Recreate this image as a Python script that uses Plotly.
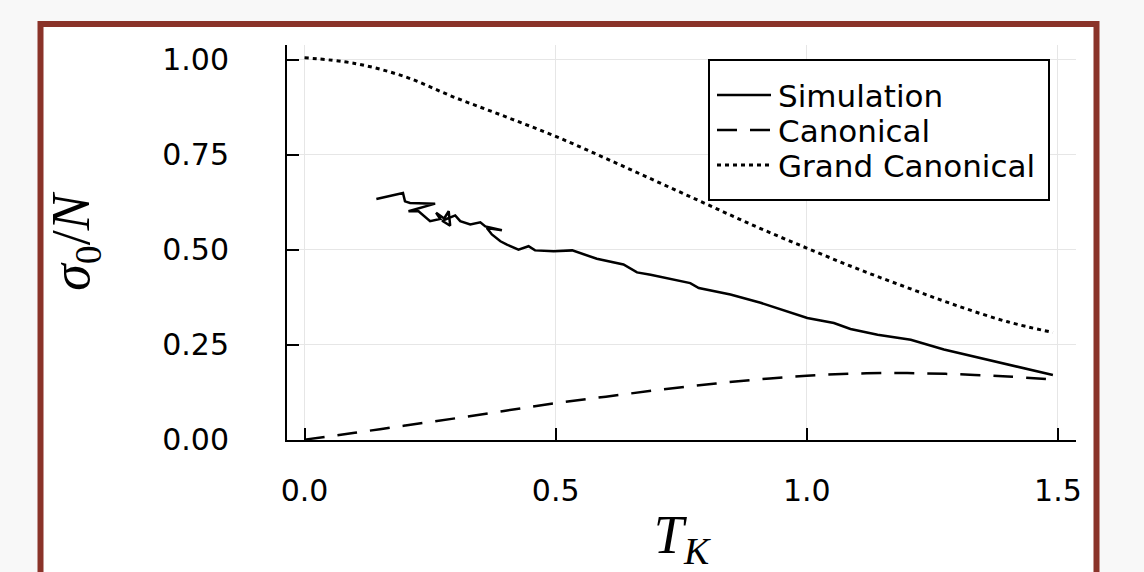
import plotly.graph_objects as go

# ---------------- data ----------------
sim_T = [0.143, 0.170, 0.196, 0.200, 0.210, 0.260, 0.240, 0.207, 0.227, 0.250,
         0.270, 0.262, 0.278, 0.287, 0.290, 0.274, 0.300, 0.310, 0.330, 0.350,
         0.360, 0.393, 0.363, 0.373, 0.390, 0.403, 0.426, 0.446, 0.459, 0.496,
         0.533, 0.582, 0.635, 0.662, 0.689, 0.768, 0.785, 0.848, 0.908, 1.001,
         1.054, 1.087, 1.141, 1.207, 1.273, 1.353, 1.420, 1.490]
sim_S = [0.633, 0.642, 0.649, 0.627, 0.623, 0.621, 0.614, 0.601, 0.601, 0.575,
         0.581, 0.597, 0.582, 0.601, 0.563, 0.576, 0.590, 0.575, 0.566, 0.572,
         0.561, 0.551, 0.557, 0.540, 0.522, 0.513, 0.500, 0.509, 0.498, 0.496,
         0.498, 0.476, 0.461, 0.440, 0.434, 0.412, 0.399, 0.382, 0.360, 0.320,
         0.307, 0.291, 0.276, 0.263, 0.237, 0.212, 0.190, 0.170]

can_T = [0.0, 0.1, 0.2, 0.3, 0.4, 0.5, 0.6, 0.7, 0.8, 0.9, 1.0, 1.1, 1.2, 1.3, 1.4, 1.49]
can_S = [0.0, 0.018, 0.037, 0.056, 0.076, 0.096, 0.113, 0.130, 0.145, 0.158,
         0.168, 0.174, 0.175, 0.172, 0.166, 0.158]

gc_T = [0.0, 0.1, 0.2, 0.3, 0.4, 0.5, 0.6, 0.7, 0.8, 0.9, 1.0, 1.1, 1.2, 1.3, 1.4, 1.49]
gc_S = [1.005, 0.990, 0.955, 0.900, 0.850, 0.798, 0.740, 0.680, 0.620, 0.560,
        0.504, 0.450, 0.400, 0.352, 0.310, 0.282]

series_names = ["Simulation", "Canonical", "Grand Canonical"]
x_ticks = [0.0, 0.5, 1.0, 1.5]
y_ticks = [0.0, 0.25, 0.5, 0.75, 1.0]

# ---------------- layout geometry (pixels) ----------------
W, H = 1144, 572
L, R, T, B = 287, 1076, 45, 440   # plot area edges in px
PAGE_BG = "#f8f8f8"


def px(x):
    return (x - L) / (R - L)


def py(y):
    return (B - y) / (B - T)


styles = [dict(color="black", width=2.5, dash="solid"),
          dict(color="black", width=2.5, dash="20px,13px"),
          dict(color="black", width=3, dash="4px,4px")]

fig = go.Figure()
fig.add_trace(go.Scatter(x=sim_T, y=sim_S, mode="lines", name=series_names[0],
                         line=styles[0], showlegend=False))
fig.add_trace(go.Scatter(x=can_T, y=can_S, mode="lines", name=series_names[1],
                         line=dict(**styles[1], shape="spline"), showlegend=False))
fig.add_trace(go.Scatter(x=gc_T, y=gc_S, mode="lines", name=series_names[2],
                         line=dict(**styles[2], shape="spline"), showlegend=False))

frame_color = "#8a3329"
shapes = [
    # outer framed card
    dict(type="rect", xref="paper", yref="paper", layer="below",
         x0=px(40.5), x1=px(1096.5), y0=py(640), y1=py(24),
         line=dict(color=frame_color, width=6), fillcolor="white"),
    # legend box
    dict(type="rect", xref="paper", yref="paper", layer="above",
         x0=px(709), x1=px(1049), y0=py(200), y1=py(60),
         line=dict(color="black", width=2), fillcolor="white"),
]
annotations = []
leg_y = [95, 130, 165]
for name, st, yy in zip(series_names, styles, leg_y):
    shapes.append(dict(type="line", xref="paper", yref="paper", layer="above",
                       x0=px(717), x1=px(771), y0=py(yy), y1=py(yy),
                       line=dict(color="black", width=st["width"], dash=st["dash"])))
    annotations.append(dict(xref="paper", yref="paper", x=px(776), y=py(yy + 1),
                            xanchor="left", yanchor="middle", showarrow=False,
                            text=name, font=dict(family="DejaVu Sans", size=31, color="black")))

axis_common = dict(showline=True, linecolor="black", linewidth=2, ticks="inside",
                   ticklen=12, tickwidth=2, tickcolor="black", showgrid=True,
                   gridcolor="#e6e6e6", gridwidth=1, zeroline=False, mirror=False,
                   tickfont=dict(family="DejaVu Sans", size=30, color="black"))

fig.update_layout(
    width=W, height=H,
    margin=dict(l=L, r=W - R, t=T, b=H - B, autoexpand=False),
    paper_bgcolor=PAGE_BG,
    plot_bgcolor="rgba(0,0,0,0)",
    shapes=shapes,
    annotations=annotations,
    xaxis=dict(**axis_common, range=[-0.0349, 1.536], tickvals=x_ticks,
               tickformat=".1f", ticklabelstandoff=23,
               title=dict(text="<i>T</i><sub><i>K</i></sub>", standoff=35,
                          font=dict(family="Liberation Serif", size=54, color="black"))),
    yaxis=dict(**axis_common, range=[-0.001, 1.0385], tickvals=y_ticks,
               tickformat=".2f", ticklabelstandoff=50,
               title=dict(text="<i>σ</i><sub>0</sub>/<i>N</i>", standoff=55,
                          font=dict(family="Liberation Serif", size=54, color="black"))),
)

fig.write_html("out.html", config={"displayModeBar": False},
               post_script="document.body.style.margin='0';"
                           "document.body.style.background='" + PAGE_BG + "';")
